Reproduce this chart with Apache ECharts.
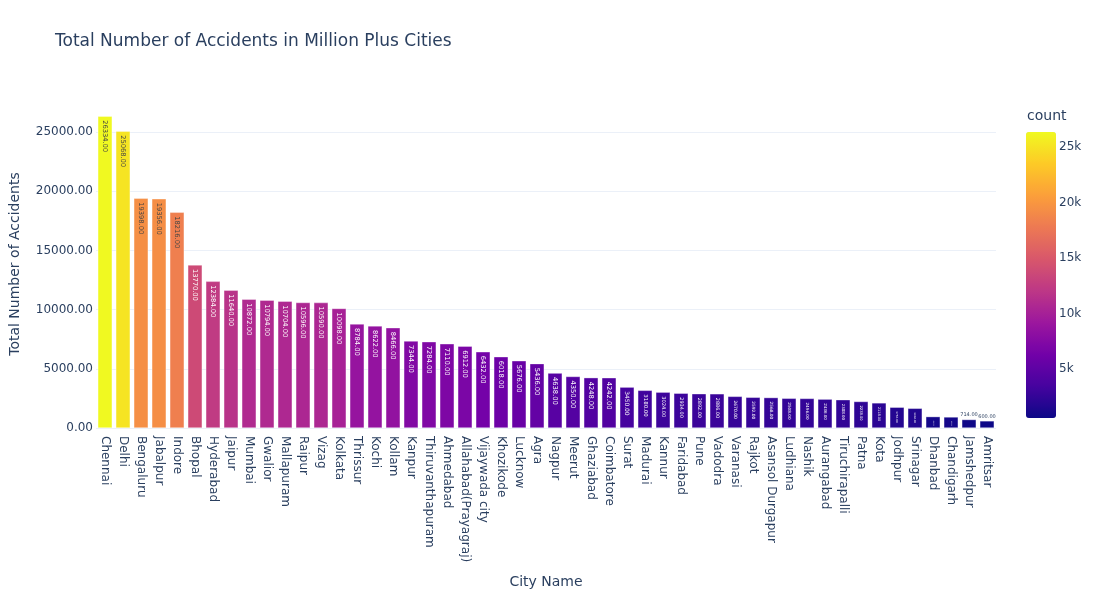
<!DOCTYPE html>
<html>
<head>
<meta charset="utf-8">
<script src="https://cdn.jsdelivr.net/npm/echarts@6/dist/echarts.min.js"></script>
<style>html,body{margin:0;padding:0;background:#fff}#chart{width:1101px;height:600px}</style>
</head>
<body>
<div id="chart"></div>
<script>
const cities = ["Chennai","Delhi","Bengaluru","Jabalpur","Indore","Bhopal","Hyderabad","Jaipur","Mumbai","Gwalior","Mallapuram","Raipur","Vizag","Kolkata","Thrissur","Kochi","Kollam","Kanpur","Thiruvanthapuram","Ahmedabad","Allahabad(Prayagraj)","Vijaywada city","Khozikode","Lucknow","Agra","Nagpur","Meerut","Ghaziabad","Coimbatore","Surat","Madurai","Kannur","Faridabad","Pune","Vadodra","Varanasi","Rajkot","Asansol Durgapur","Ludhiana","Nashik","Aurangabad","Tiruchirapalli","Patna","Kota","Jodhpur","Srinagar","Dhanbad","Chandigarh","Jamshedpur","Amritsar"];
const counts = [26334,25068,19398,19356,18216,13770,12384,11640,10872,10794,10704,10596,10590,10098,8784,8622,8466,7344,7284,7110,6912,6432,6018,5676,5436,4638,4350,4248,4242,3450,3180,3024,2934,2892,2886,2670,2592,2568,2508,2496,2436,2388,2238,2118,1752,1662,960,930,714,600];
const yTickFormat = v => v.toFixed(2);
const cbarTickFormat = v => (v/1000) + 'k';

const plasma = ['#0d0887','#46039f','#7201a8','#9c179e','#bd3786','#d8576b','#ed7953','#fb9f3a','#fdca26','#f0f921'];
const textColor = '#2a3f5f';
const font = '"DejaVu Sans", Verdana, sans-serif';
const yMax = 27700;
const plotH = 328;

function labelFor(v) {
  const h = v * plotH / yMax;
  const s = v.toFixed(2);
  const lenEm = (s.length - 1) * 0.636 + 0.318;
  if (h < 9) {
    return {position: 'top', rotate: 0, fontSize: 5, distance: 2, color: textColor, align: 'center', verticalAlign: 'bottom'};
  }
  const fs = Math.max(1.5, Math.min(6.7, (0.65 * h - 2) / lenEm));
  return {position: 'insideTop', rotate: -90, fontSize: fs, distance: 4,
          align: 'left', verticalAlign: 'middle',
          color: v > 16000 ? '#444' : '#fff'};
}

const barData = counts.map(v => ({value: v, label: labelFor(v)}));
const vmin = Math.min(...counts), vmax = Math.max(...counts);

const chart = echarts.init(document.getElementById('chart'), null, {renderer: 'canvas'});
chart.setOption({
  animation: false,
  backgroundColor: '#fff',
  textStyle: {fontFamily: font},
  title: [
    {text: 'Total Number of Accidents in Million Plus Cities', left: 55, top: 33, padding: 0,
     textStyle: {fontSize: 17, fontWeight: 'normal', color: textColor, fontFamily: font}},
    {text: 'count', left: 1027, top: 109, padding: 0,
     textStyle: {fontSize: 14, fontWeight: 'normal', color: textColor, fontFamily: font}}
  ],
  grid: [
    {left: 96, right: 105, top: 100, bottom: 172, outerBoundsMode: 'none', containLabel: false},
    {left: 1026, top: 132, width: 30, height: 286, outerBoundsMode: 'none', containLabel: false}
  ],
  visualMap: {
    type: 'continuous', seriesIndex: 0, min: vmin, max: vmax,
    left: 1026, top: 132, itemWidth: 30, itemHeight: 286, padding: 0,
    calculable: false, text: null, showLabel: false, hoverLink: false,
    inRange: {color: plasma}
  },
  xAxis: [
    {type: 'category', data: cities, gridIndex: 0,
     axisLine: {show: false}, axisTick: {show: false},
     axisLabel: {interval: 0, rotate: -90, margin: 8, fontSize: 12, color: textColor, fontFamily: font},
     name: 'City Name', nameLocation: 'middle', nameGap: 147,
     nameTextStyle: {fontSize: 14, color: textColor, fontFamily: font}},
    {type: 'value', gridIndex: 1, show: false, min: 0, max: 1}
  ],
  yAxis: [
    {type: 'value', gridIndex: 0, min: 0, max: yMax, interval: 5000,
     axisLine: {show: false}, axisTick: {show: false},
     axisLabel: {formatter: yTickFormat, fontSize: 12, color: textColor, margin: 3, showMaxLabel: false, fontFamily: font},
     splitLine: {show: true, showMaxLine: false, lineStyle: {color: '#EBF0F8', width: 1}},
     name: 'Total Number of Accidents', nameLocation: 'middle', nameGap: 74,
     nameTextStyle: {fontSize: 14, color: textColor, fontFamily: font}},
    {type: 'value', gridIndex: 1, min: vmin, max: vmax, position: 'right',
     axisLine: {show: false}, axisTick: {show: false}, splitLine: {show: false},
     axisLabel: {formatter: cbarTickFormat, fontSize: 12, color: textColor, margin: 3,
                 showMinLabel: false, showMaxLabel: false, fontFamily: font}}
  ],
  series: [{
    type: 'bar', xAxisIndex: 0, yAxisIndex: 0,
    data: barData,
    barCategoryGap: '20%',
    itemStyle: {borderColor: 'rgba(255,255,255,0.7)', borderWidth: 0.5},
    label: {show: true, formatter: p => p.value.toFixed(2), fontFamily: font}
  }]
});
</script>
</body>
</html>
